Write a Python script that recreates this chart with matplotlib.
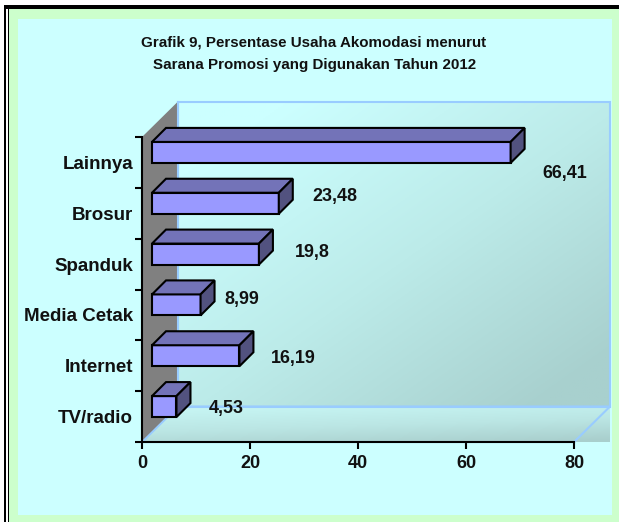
import numpy as np
import matplotlib
matplotlib.use("Agg")
import matplotlib.pyplot as plt
from matplotlib.patches import Polygon, Rectangle
from matplotlib.colors import LinearSegmentedColormap

plt.rcParams['font.family'] = ['Liberation Sans', 'DejaVu Sans']

categories = ["TV/radio", "Internet", "Media Cetak", "Spanduk", "Brosur", "Lainnya"]
values = [4.53, 16.19, 8.99, 19.8, 23.48, 66.41]
value_labels = ["4,53", "16,19", "8,99", "19,8", "23,48", "66,41"]
x_ticks = [0, 20, 40, 60, 80]
title_lines = "Grafik 9, Persentase Usaha Akomodasi menurut\nSarana Promosi yang Digunakan Tahun 2012"
label_offsets_px = [(50, -2), (54, -3), (41, 5), (53, 2), (56, 7), (54, -21)]

W, H = 619, 522
fig = plt.figure(figsize=(W / 100, H / 100), dpi=100, facecolor='white')

# frame, in pixel coordinates
bg = fig.add_axes([0, 0, 1, 1])
bg.set_xlim(0, W); bg.set_ylim(H, 0); bg.axis('off')
bg.add_patch(Rectangle((9, 9), W - 9, H - 9, fc='#CCFFCC', ec='none'))
bg.add_patch(Rectangle((18, 19), 594, 496, fc='#CCFFFF', ec='none'))
bg.add_patch(Rectangle((4, 5), W - 4, 4, fc='black', ec='none'))
bg.add_patch(Rectangle((4, 5), 2, H - 5, fc='black', ec='none'))
bg.add_patch(Rectangle((7.6, 5), 1.6, H - 5, fc='black', ec='none'))
bg.text(313.5, 42.5, title_lines.split("\n")[0], ha='center', va='center', fontsize=10.9,
        fontweight='bold', color='#111111')
bg.text(315, 64.5, title_lines.split("\n")[1], ha='center', va='center', fontsize=10.9,
        fontweight='bold', color='#111111')

# plot axes: the front plane of the 3D box
L, R, B, T = 142, 574, 442, 137
ax = fig.add_axes([L / W, 1 - B / H, (R - L) / W, (B - T) / H])
ax.patch.set_visible(False)
ax.set_xlim(0, 80)
ax.set_ylim(0, len(categories))
ux = (R - L) / 80           # pixels per x unit
uy = (B - T) / len(categories)
px = lambda n: n / ux
py = lambda n: n / uy
depth_x, depth_y = px(36), py(35.5)
ymax = len(categories)

wall_cmap = LinearSegmentedColormap.from_list('w', ['#CCFFFF', '#BCEBE9', '#A8D0CE'])
floor_cmap = LinearSegmentedColormap.from_list('f', ['#C6F5F3', '#BBE6E4', '#A9CFCD'])
gx, gy = np.meshgrid(np.linspace(0, 1, 200), np.linspace(0, 1, 200))

# back wall
wall_box = [depth_x, 80 + depth_x, depth_y, ymax + depth_y]
im = ax.imshow(gx * 0.6 + gy * 0.6, origin='upper', extent=wall_box, aspect='auto',
               cmap=wall_cmap, vmin=0.15, vmax=1.1, zorder=1, clip_on=False)
wall = Rectangle((depth_x, depth_y), 80, ymax, fc='none', ec='#99CCFF', lw=1.5, zorder=1.5, clip_on=False)
ax.add_patch(wall)

# floor
floor_pts = [(0, 0), (80, 0), (80 + depth_x, depth_y), (depth_x, depth_y)]
im2 = ax.imshow(gx * 0.35 + gy * 0.9, origin='upper', extent=[0, 80 + depth_x, 0, depth_y], aspect='auto',
                cmap=floor_cmap, vmin=0.1, vmax=1.2, zorder=1.1, clip_on=False)
floor = Polygon(floor_pts, closed=True, fc='none', ec='#99CCFF', lw=1.5, zorder=1.6, clip_on=False)
ax.add_patch(floor)
im2.set_clip_path(floor)

# left wall
ax.add_patch(Polygon([(0, 0), (depth_x, depth_y), (depth_x, ymax + depth_y), (0, ymax)],
                     closed=True, fc='#808080', ec='none', zorder=1.7, clip_on=False))
ax.plot([depth_x, depth_x], [depth_y, ymax + depth_y], color='#99CCFF', lw=1.5, zorder=1.8, clip_on=False)
ax.plot([0, depth_x], [0, depth_y], color='#99CCFF', lw=1.2, zorder=1.8, clip_on=False)
ax.set_xlim(0, 80)
ax.set_ylim(0, ymax)

# bars
bar_dx, bar_dy = px(14), py(14)
off_x, off_y = px(10), py(10)
half = py(10.5)
edge = dict(ec='black', lw=1.5, joinstyle='miter', clip_on=False, zorder=3)
for i, (v, lab, (ox, oy)) in enumerate(zip(values, value_labels, label_offsets_px)):
    x0 = off_x
    x1 = off_x + v
    yc = i + 0.5 + off_y
    y0, y1 = yc - half, yc + half
    ax.add_patch(Polygon([(x0, y0), (x1, y0), (x1, y1), (x0, y1)], closed=True, fc='#9999FF', **edge))
    ax.add_patch(Polygon([(x0, y1), (x1, y1), (x1 + bar_dx, y1 + bar_dy), (x0 + bar_dx, y1 + bar_dy)],
                         closed=True, fc='#7373B8', **edge))
    ax.add_patch(Polygon([(x1, y0), (x1 + bar_dx, y0 + bar_dy), (x1 + bar_dx, y1 + bar_dy), (x1, y1)],
                         closed=True, fc='#52527F', **edge))
    ax.annotate(lab, xy=(x1, yc), xytext=(ox, oy), textcoords='offset pixels', ha='center', va='center',
                fontsize=12.9, fontweight='bold', color='#111111', zorder=4, annotation_clip=False)

# axes furniture
for s in ('top', 'right'):
    ax.spines[s].set_visible(False)
for s in ('left', 'bottom'):
    ax.spines[s].set_linewidth(1.5)
    ax.spines[s].set_zorder(5)
ax.set_xticks(x_ticks)
ax.set_xticklabels([str(t) for t in x_ticks], fontsize=13, fontweight='bold', color='#111111')
ax.tick_params(axis='x', length=5, width=1.5, pad=4)
ax.set_yticks(range(len(categories) + 1))
ax.set_yticklabels([])
ax.tick_params(axis='y', which='major', length=5, width=1.5)
ax.set_yticks(np.arange(len(categories)) + 0.5, minor=True)
ax.set_yticklabels(categories, minor=True, fontsize=13.5, fontweight='bold', color='#111111')
ax.tick_params(axis='y', which='minor', length=0, pad=6.5)

fig.savefig('out.png', dpi=100, facecolor='white')
